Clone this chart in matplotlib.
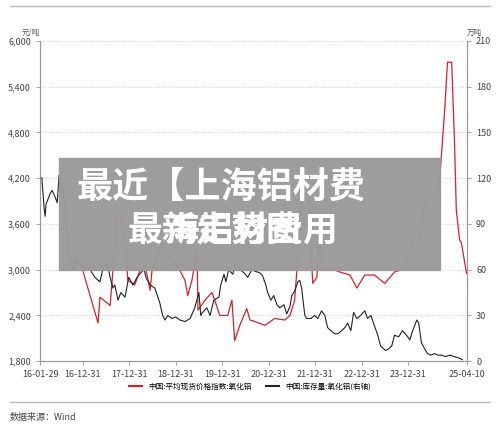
import matplotlib
matplotlib.use("Agg")
import matplotlib.pyplot as plt
from matplotlib.patches import Rectangle
from matplotlib.lines import Line2D

plt.rcParams['font.family'] = ['Noto Sans CJK SC', 'DejaVu Sans']

# Price index (left axis, yuan/ton)
red_t = [2017.00,2017.33,2017.37,2017.59,2017.65,2017.74,2017.80,2017.91,2017.97,2018.12,2018.23,2018.34,
         2018.45,2018.49,2018.60,2018.66,2018.77,2018.88,2018.98,2019.09,2019.20,2019.26,2019.35,2019.46,
         2019.48,2019.63,2019.78,2019.84,2019.95,2020.12,2020.21,2020.27,2020.38,2020.53,2020.60,2020.75,
         2020.92,2021.13,2021.35,2021.46,2021.56,2021.67,2021.71,2021.86,2021.95,2022.04,2022.10,2022.16,
         2022.32,2022.53,2022.75,2022.90,2023.07,2023.28,2023.50,2023.71,2023.82,2023.93,2024.04,2024.10,
         2024.25,2024.36,2024.47,2024.62,2024.68,2024.79,2024.85,2024.94,2025.00,2025.04,2025.11,2025.15,2025.26]
red_v = [2990,2300,2640,2530,2990,3690,3720,3390,2860,2800,2990,3060,
         2730,2990,3190,3300,3260,3120,3100,2990,2860,2660,2860,3260,
         2470,2600,2700,2600,2400,2400,2600,2070,2270,2490,2340,2310,
         2270,2360,2340,2400,2600,3480,4040,3950,2820,2900,3560,2990,
         3020,2970,2930,2760,2930,2930,2820,2970,2990,3060,3190,3360,
         3320,3910,3910,3980,4170,5090,5720,5720,4700,3780,3390,3350,2950]

# Inventory (right axis, 10k tons)
blk_t = [2016.08,2016.12,2016.17,2016.19,2016.21,2016.25,2016.30,2016.34,2016.40,2016.45,2016.49,2016.53,
         2016.57,2016.62,2016.66,2016.70,2016.75,2016.79,2016.85,2016.90,2016.94,2017.00,2017.07,2017.16,
         2017.26,2017.37,2017.43,2017.52,2017.59,2017.65,2017.69,2017.76,2017.82,2017.91,2017.99,2018.08,
         2018.17,2018.25,2018.32,2018.36,2018.45,2018.55,2018.66,2018.72,2018.77,2018.83,2018.92,2019.00,
         2019.09,2019.20,2019.31,2019.41,2019.50,2019.54,2019.58,2019.67,2019.74,2019.82,2019.93,2019.97,
         2020.04,2020.08,2020.14,2020.23,2020.29,2020.38,2020.47,2020.55,2020.64,2020.70,2020.81,2020.87,
         2020.94,2020.98,2021.05,2021.11,2021.18,2021.24,2021.33,2021.39,2021.46,2021.50,2021.56,2021.63,
         2021.67,2021.71,2021.78,2021.82,2021.91,2021.99,2022.06,2022.14,2022.21,2022.27,2022.34,2022.42,
         2022.49,2022.57,2022.64,2022.70,2022.77,2022.83,2022.90,2022.98,2023.07,2023.13,2023.20,2023.28,
         2023.35,2023.41,2023.48,2023.52,2023.58,2023.65,2023.71,2023.80,2023.88,2023.97,2024.04,2024.10,
         2024.19,2024.23,2024.29,2024.36,2024.42,2024.49,2024.57,2024.64,2024.72,2024.81,2024.90,2025.00,
         2025.11,2025.17]
blk_v = [121,120,100,95,103,106,110,112,108,104,122,120,
         112,100,85,70,63,60,67,63,65,62,64,60,
         55,52,60,65,55,48,50,40,45,42,55,50,
         55,58,60,55,50,48,38,30,27,30,28,29,
         27,26,28,35,45,30,32,35,30,40,42,50,
         57,52,60,57,65,60,58,55,60,59,58,56,
         50,45,40,43,37,35,37,31,36,43,46,52,
         53,48,30,28,28,30,28,33,30,22,20,18,
         18,20,22,25,20,32,28,30,33,28,30,23,
         17,10,8,7,8,10,17,16,20,17,14,20,
         27,25,12,8,5,4,5,4,4,3,4,3,
         2,1]

x_ticks = [2016.08,2017.0,2018.0,2019.0,2020.0,2021.0,2022.0,2023.0,2024.0,2025.27]
x_labels = ['16-01-29','16-12-31','17-12-31','18-12-31','19-12-31','20-12-31','21-12-31','22-12-31','23-12-31','25-04-10']
yl_ticks = [1800,2400,3000,3600,4200,4800,5400,6000]
yr_ticks = [0,30,60,90,120,150,180,210]

fig = plt.figure(figsize=(5,4.3), dpi=100)
ax = fig.add_axes([0.08,0.16,0.854,0.745])
ax2 = ax.twinx()
gc = '#999999'
ax.plot(red_t, red_v, color='#d9202a', lw=0.9)
ax2.plot(blk_t, blk_v, color='#222222', lw=0.8)
ax.set_xlim(2016.08,2025.27)
ax.set_ylim(1800,6000)
ax2.set_ylim(0,210)
ax.set_xticks(x_ticks, x_labels)
ax.set_yticks(yl_ticks, [f'{v:,}' for v in yl_ticks])
ax2.set_yticks(yr_ticks, [str(v) for v in yr_ticks])
ax.grid(axis='y', ls=':', color='#cccccc', lw=0.7)
for a in (ax, ax2):
    a.tick_params(labelsize=6.5, colors='#444444', length=3, color=gc, width=0.6)
    a.spines['top'].set_visible(False)
    for s in ('left','right','bottom'):
        a.spines[s].set_color(gc)
        a.spines[s].set_linewidth(0.8)
ax.text(0.0, 1.02, '元/吨', transform=ax.transAxes, fontsize=5.5, color='#555', ha='right')
ax.text(1.0, 1.02, '万吨', transform=ax.transAxes, fontsize=5.5, color='#555', ha='left')

handles = [Line2D([],[],color='#d9202a',lw=1.5), Line2D([],[],color='#222222',lw=1.5)]
fig.legend(handles, ['中国:平均现货价格指数:氧化铝','中国:库存量:氧化铝(右轴)'], loc='center',
           bbox_to_anchor=(0.5,0.1), ncol=2, frameon=False, fontsize=5.5, handlelength=1.6,
           columnspacing=2)
fig.add_artist(Line2D([0.02,0.98],[0.065,0.065], color='#bbbbbb', lw=1))
fig.add_artist(Line2D([0.02,0.98],[0.985,0.985], color='#bbbbbb', lw=1))
fig.text(0.02,0.03,'数据来源：Wind', fontsize=6.5, color='#444', va='center')

fig.add_artist(Rectangle((0.118,0.372),0.762,0.26, transform=fig.transFigure,
                         color='#9a9a9a', alpha=0.97, zorder=10))
fig.text(0.152,0.565,'最近【上海铝材费', fontsize=26, fontweight='bold', color='white', zorder=11, va='center')
fig.text(0.255,0.462,'最新走势图', fontsize=25, fontweight='bold', color='white', zorder=11, va='center')
fig.text(0.33,0.462,'海铝材费用', fontsize=25, fontweight='bold', color='white', zorder=11, va='center')

fig.savefig('out.png', dpi=100)
